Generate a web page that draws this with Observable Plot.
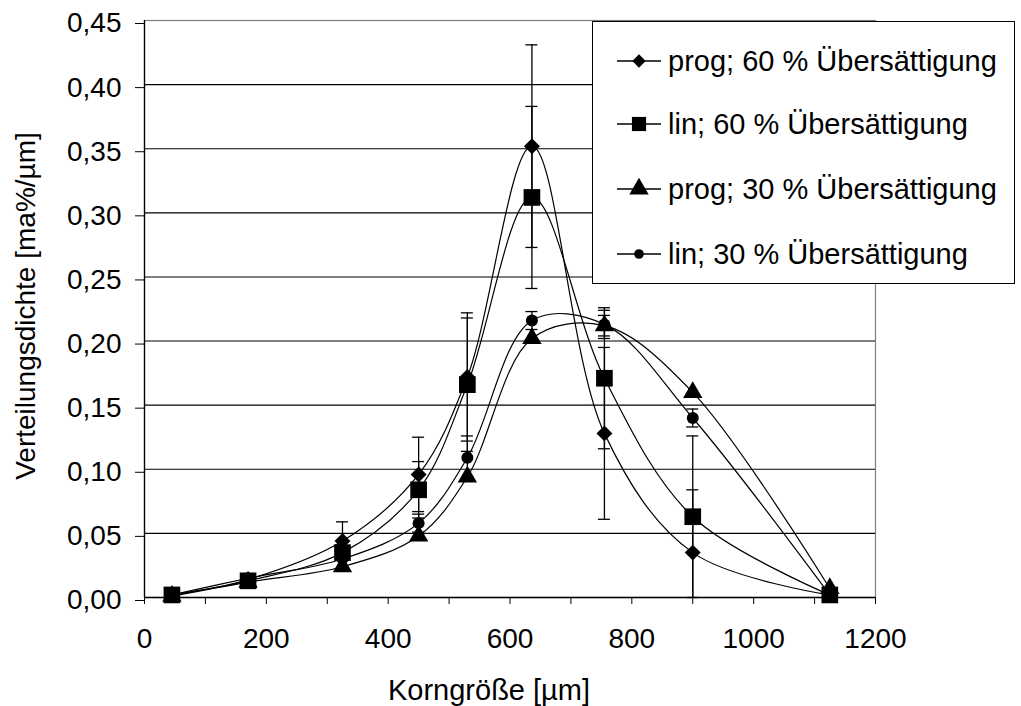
<!DOCTYPE html>
<html>
<head>
<meta charset="utf-8">
<script src="https://cdn.jsdelivr.net/npm/d3@7"></script>
<script src="https://cdn.jsdelivr.net/npm/@observablehq/plot@0.6"></script>
<style>
  body { margin: 0; background: #fff; }
  #wrap { position: relative; width: 1021px; height: 706px; font-family: "Liberation Sans", Arial, sans-serif; }
  #legend { position: absolute; left: 592px; top: 21px; width: 423px; height: 263px; border: 1.5px solid #000; background: #fff; box-sizing: border-box; }
  .row { position: absolute; left: 0; height: 40px; display: flex; align-items: center; font-size: 29px; color: #000; white-space: nowrap; }
  .row svg { margin-left: 24px; margin-right: 7px; }
</style>
</head>
<body>
<div id="wrap"><div id="chart"></div><div id="legend"></div></div>
<script>
// Korngröße [µm]
const sizes = [45, 170, 325, 450, 530, 636, 755, 900, 1125];
// Verteilungsdichte [ma%/µm]
const prog60 = [0.002, 0.014, 0.044, 0.096, 0.172, 0.352, 0.128, 0.035, 0.002];
const lin60  = [0.002, 0.013, 0.035, 0.084, 0.166, 0.312, 0.171, 0.063, 0.002];
const prog30 = [0.001, 0.012, 0.024, 0.048, 0.094, 0.202, 0.212, 0.160, 0.007];
const lin30  = [0.002, 0.015, 0.030, 0.058, 0.109, 0.216, 0.213, 0.140, 0.002];
// error (±)
const errProg60 = [0, 0, 0.015, 0.029, 0.050, 0.079, 0.067, 0.049, 0];
const errLin60  = [0, 0, 0, 0.022, 0.052, 0.071, 0.055, 0.063, 0];
const errProg30 = [0, 0, 0, 0, 0, 0, 0.008, 0, 0];
const errLin30  = [0, 0, 0, 0.007, 0.017, 0.007, 0.011, 0.007, 0];

const seriesNames = ["prog; 60 % Übersättigung", "lin; 60 % Übersättigung", "prog; 30 % Übersättigung", "lin; 30 % Übersättigung"];
const seriesValues = [prog60, lin60, prog30, lin30];
const seriesErrors = [errProg60, errLin60, errProg30, errLin30];
const symbols = ["diamond2", "square", "triangle", "circle"];
const radii = [7.2, 9.4, 7.2, 6];

const xTicks = [0, 200, 400, 600, 800, 1000, 1200];
const xMinor = [100, 300, 500, 700, 900, 1100];
const yTicks = [0, 0.05, 0.10, 0.15, 0.20, 0.25, 0.30, 0.35, 0.40, 0.45];
const yGrid = [0.05, 0.10, 0.15, 0.20, 0.25, 0.30, 0.35, 0.40];

const rows = [];
seriesNames.forEach((s, k) => sizes.forEach((x, i) => {
  const y = seriesValues[k][i], e = seriesErrors[k][i];
  rows.push({series: s, k, x, y, e, lo: Math.max(0, y - e), hi: y + e, loCap: y - e >= 0});
}));
const errRows = rows.filter(d => d.e > 0);

const font = "Liberation Sans, Arial, sans-serif";
const marks = [
  Plot.frame({stroke: "#808080", strokeWidth: 1.2}),
  Plot.ruleY(yGrid, {stroke: "#000", strokeWidth: 1.1})
];
seriesNames.forEach((s, k) => {
  const sr = rows.filter(d => d.k === k);
  const er = errRows.filter(d => d.k === k);
  marks.push(
    Plot.ruleX(er, {x: "x", y1: "lo", y2: "hi", stroke: "#000", strokeWidth: 1.3}),
    Plot.ruleY(er, {y: "hi", x1: "x", x2: "x", insetLeft: -6, insetRight: -6, stroke: "#000", strokeWidth: 1.3}),
    Plot.ruleY(er.filter(d => d.loCap), {y: "lo", x1: "x", x2: "x", insetLeft: -6, insetRight: -6, stroke: "#000", strokeWidth: 1.3}),
    Plot.line(sr, {x: "x", y: "y", curve: "catmull-rom", stroke: "#000", strokeWidth: 1.2}),
    Plot.dot(sr, {x: "x", y: "y", symbol: symbols[k], r: radii[k], fill: "#000", stroke: "none"})
  );
});
marks.push(
  Plot.ruleX([0], {stroke: "#000", strokeWidth: 1.3}),
  Plot.ruleY([0], {stroke: "#000", strokeWidth: 1.3}),
  Plot.axisY({ticks: yTicks, tickFormat: d => d.toFixed(2).replace(".", ","), tickSize: 9, tickPadding: 14, fontSize: 28, dy: 3, label: null, stroke: "#000"}),
  Plot.axisX({ticks: xTicks, tickFormat: d => String(d), tickSize: 7, tickPadding: 24, fontSize: 28, label: null}),
  Plot.axisX({ticks: xMinor, tickFormat: () => "", tickSize: 7, label: null}),
  Plot.text(["Korngröße [µm]"], {frameAnchor: "bottom", lineAnchor: "middle", textAnchor: "middle", dx: -21, dy: 93, fontSize: 29, fill: "#000"}),
  Plot.text(["Verteilungsdichte [ma%/µm]"], {frameAnchor: "left", lineAnchor: "middle", textAnchor: "middle", rotate: -90, dx: -118, dy: -3, fontSize: 28, fill: "#000"})
);

const chart = Plot.plot({
  width: 1021, height: 706,
  marginTop: 20, marginRight: 146, marginBottom: 109, marginLeft: 144,
  style: {fontFamily: font, color: "#000", background: "#fff", overflow: "visible"},
  x: {domain: [0, 1200]},
  y: {domain: [0, 0.45]},
  marks
});
document.getElementById("chart").appendChild(chart);

// legend
const legend = document.getElementById("legend");
const rowCenters = [39, 102, 167, 232];
seriesNames.forEach((s, k) => {
  const row = document.createElement("div");
  row.className = "row";
  row.style.top = (rowCenters[k] - 20) + "px";
  const sym = {diamond2: d3.symbolDiamond2, square: d3.symbolSquare, triangle: d3.symbolTriangle, circle: d3.symbolCircle}[symbols[k]];
  const r = [6, 8, 7.2, 4.8][k];
  const path = d3.symbol(sym, Math.PI * r * r)();
  row.innerHTML = `<svg width="44" height="40" viewBox="-22 -20 44 40"><line x1="-22" x2="22" y1="0" y2="0" stroke="#000" stroke-width="1.3"/><path d="${path}" fill="#000"/></svg><span>${s}</span>`;
  legend.appendChild(row);
});
</script>
</body>
</html>
